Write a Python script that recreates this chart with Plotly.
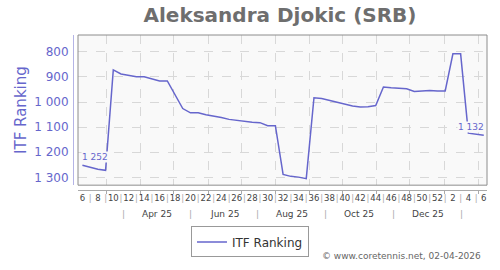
import pandas as pd
import plotly.graph_objects as go

# ---- data ----
start_date = "2025-02-07"
weeks = [6, 7, 8, 9, 10, 11, 12, 13, 14, 15, 16, 17, 18, 19, 20, 21, 22, 23, 24, 25,
         26, 27, 28, 29, 30, 31, 32, 33, 34, 35, 36, 37, 38, 39, 40, 41, 42, 43, 44, 45,
         46, 47, 48, 49, 50, 51, 52, 1, 2, 3, 4, 5, 6]
ranks = [1252, 1260, 1268, 1272, 872, 888, 894, 899, 899, 909, 916, 916, 971, 1026,
         1043, 1043, 1051, 1056, 1062, 1069, 1073, 1079, 1080, 1082, 1094, 1094, 1288,
         1296, 1299, 1305, 983, 986, 994, 1002, 1008, 1016, 1020, 1019, 1014, 940, 943,
         945, 947, 958, 956, 954, 956, 956, 808, 808, 1124, 1127, 1132]
month_labels = ["Apr 25", "Jun 25", "Aug 25", "Oct 25", "Dec 25"]
month_label_dates = ["2025-04-16", "2025-06-16", "2025-08-16", "2025-10-16", "2025-12-17"]
month_sep_dates = ["2025-03-16", "2025-05-16", "2025-07-16", "2025-09-15", "2025-11-16", "2026-01-17"]
y_ticks = [800, 900, 1000, 1100, 1200, 1300]

dates = pd.date_range(start_date, periods=len(ranks), freq="7D")
week_text = [str(w) if w % 2 == 0 else '<span style="color:#aaaaaa">|</span>' for w in weeks]

LINE = "#6666cc"
x_range = ["2025-02-03", "2026-02-08 22:00"]
y_range = [1331, 733]

fig = go.Figure()
fig.add_trace(go.Scatter(x=dates, y=ranks, mode="lines", name="ITF Ranking",
                         line=dict(color=LINE, width=1.5), hoverinfo="skip"))

def fmt(v):
    return f"{v:,}".replace(",", " ")

annotations = [
    dict(x=dates[0], y=ranks[0], xref="x", yref="y", text=fmt(ranks[0]), showarrow=False,
         xshift=13, yshift=8, font=dict(size=9, color=LINE), bgcolor="#f9f9f9", borderpad=0),
    dict(x=dates[-1], y=ranks[-1], xref="x", yref="y", text=fmt(ranks[-1]), showarrow=False,
         xshift=-13, yshift=8, font=dict(size=9, color=LINE), bgcolor="#f9f9f9", borderpad=0),
]
for lab, d in zip(month_labels, month_label_dates):
    annotations.append(dict(x=d, y=-0.156, xref="x", yref="paper", text=lab, showarrow=False,
                            yanchor="middle", font=dict(size=9, color="#444444")))
for d in month_sep_dates:
    annotations.append(dict(x=d, y=-0.156, xref="x", yref="paper", text="|", showarrow=False,
                            yanchor="middle", font=dict(size=9, color="#aaaaaa")))
annotations.append(dict(x=0.99, y=-0.425, xref="paper", yref="paper",
                        text="© www.coretennis.net, 02-04-2026", showarrow=False,
                        xanchor="right", yanchor="middle", font=dict(size=9, color="#666666")))

fig.update_layout(
    width=500, height=270,
    margin=dict(l=73, r=13, t=35, b=75),
    paper_bgcolor="white", plot_bgcolor="#f9f9f9",
    separators=". ",
    font=dict(family="DejaVu Sans", color="#444444"),
    title=dict(text="<b>Aleksandra Djokic (SRB)</b>", x=0.5, xref="paper", xanchor="center",
               y=1 - 15 / 270, yanchor="middle", font=dict(size=20, color="#6e6e6e")),
    showlegend=True,
    legend=dict(x=0.4275, y=-0.335, xanchor="center", yanchor="middle", itemwidth=30,
                bordercolor="#999999", borderwidth=1, bgcolor="white",
                font=dict(size=12, color="#333333")),
    xaxis=dict(type="date", range=x_range, domain=[5 / 414, 1], anchor="free", position=0,
               tickmode="array", tickvals=list(dates), ticktext=week_text, tickangle=0,
               tickfont=dict(size=8.5, color="#444444"), ticks="",
               showgrid=False, showline=True, linecolor="#aaaaaa", linewidth=1,
               zeroline=False,
               minor=dict(tickmode="linear", tick0="2025-03-01", dtick="M1",
                          showgrid=True, gridcolor="#d8d8d8", griddash="dash", gridwidth=1,
                          ticks="outside", ticklen=3, tickcolor="#aaaaaa")),
    yaxis=dict(range=y_range, domain=[5 / 160, 1], anchor="free", position=0,
               tickmode="array", tickvals=y_ticks, separatethousands=True,
               showgrid=True, gridcolor="#d8d8d8", griddash="dash", gridwidth=1,
               showline=True, linecolor="#b4b4e6", linewidth=1, ticks="",
               ticklabelstandoff=2,
               tickfont=dict(size=12, color=LINE), zeroline=False,
               title=dict(text="ITF Ranking", font=dict(size=15, color=LINE), standoff=2)),
    shapes=[dict(type="rect", xref="x domain", yref="y domain", x0=0, x1=1, y0=0, y1=1,
                 line=dict(color="#8c8c8c", width=1), layer="above")],
    annotations=annotations,
)

fig.write_html("out.html")
